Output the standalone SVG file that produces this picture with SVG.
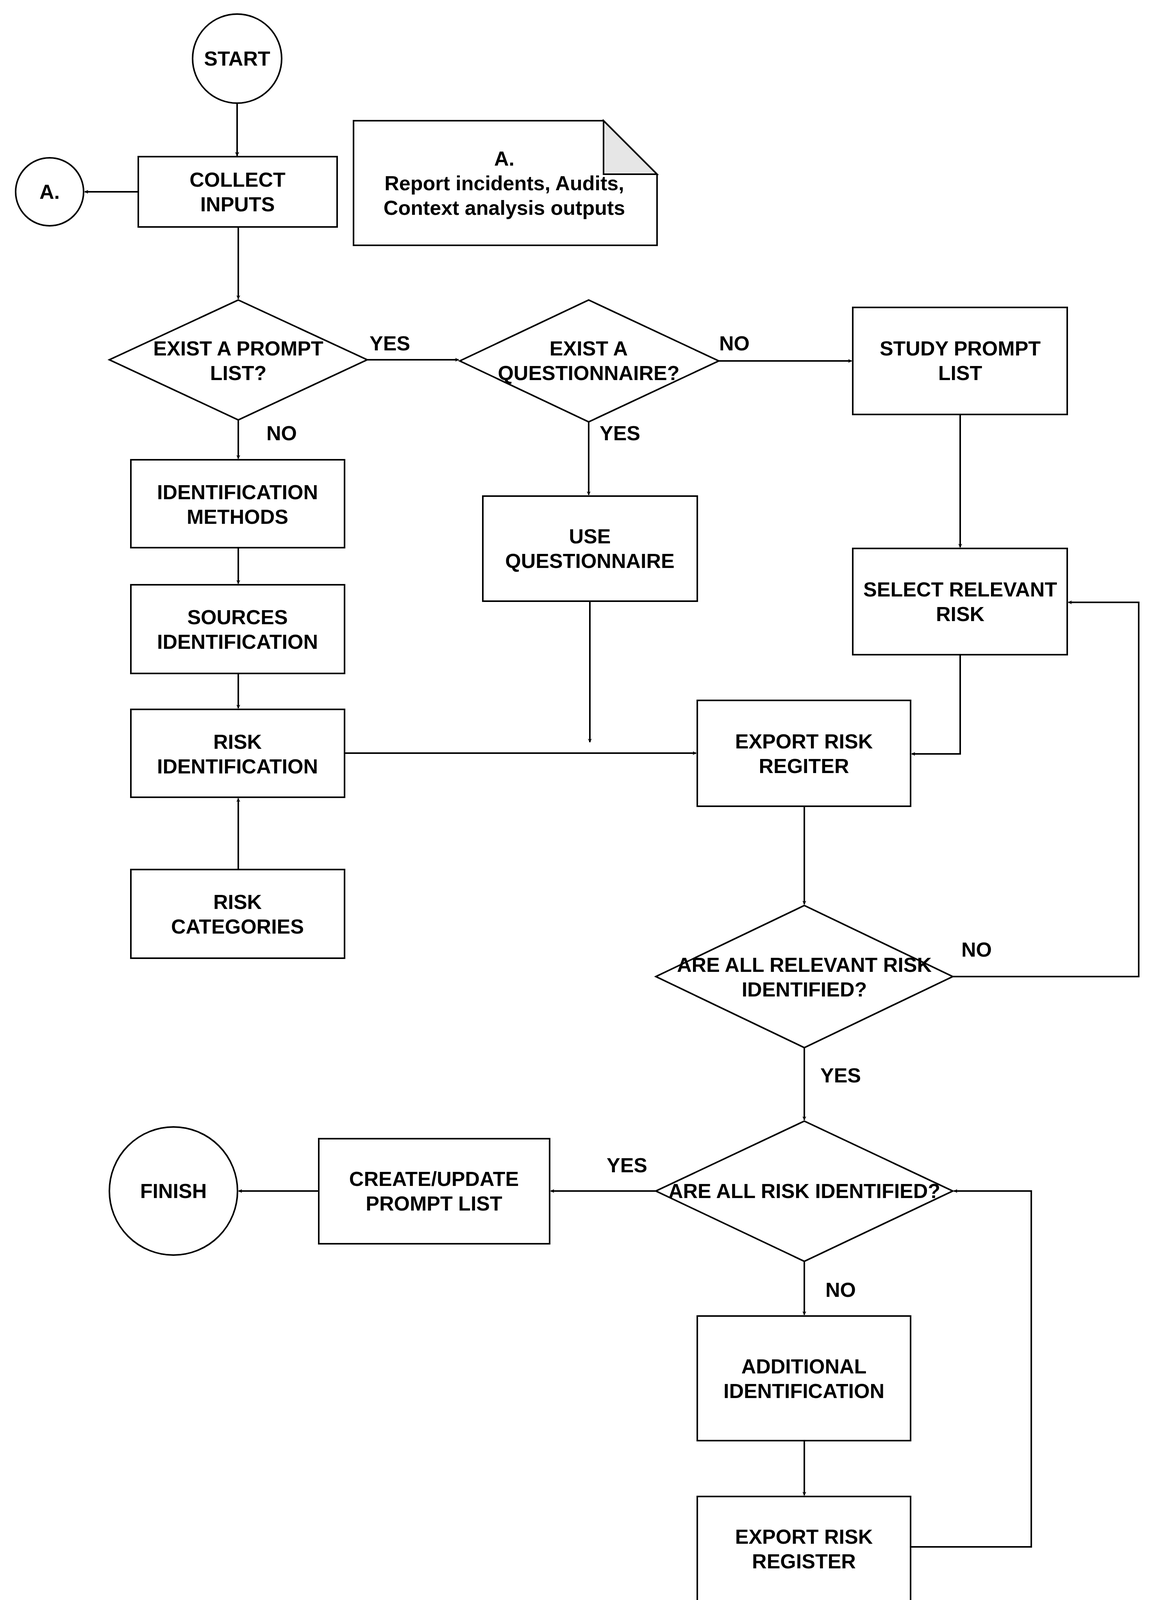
<svg xmlns="http://www.w3.org/2000/svg" width="2990" height="4170" viewBox="0 0 2990 4170">
<style>
.s{fill:#fff;stroke:#000;stroke-width:4}
.t{font-family:"Liberation Sans",Arial,sans-serif;font-weight:bold;font-size:52px;text-anchor:middle;fill:#000}
.c{fill:none;stroke:#000;stroke-width:4}
</style>
<defs><marker id="a" markerWidth="10" markerHeight="10" refX="9" refY="5" orient="auto" markerUnits="userSpaceOnUse" viewBox="0 0 10 10"><path d="M0,0L10,5L0,10L3,5z" fill="#000"/></marker></defs>
<rect width="2990" height="4170" fill="#fff"/>
<g id="connectors" class="c" marker-end="url(#a)">
<path d="M607,264V398" style="marker-end:url(#a)"/>
</g>
<g class="c">
<path d="M607,264V399" marker-end="url(#a)"/>
<path d="M354,491H217" marker-end="url(#a)"/>
<path d="M610,581V765" marker-end="url(#a)"/>
<path d="M940,921H1174" marker-end="url(#a)"/>
<path d="M610,1075V1174" marker-end="url(#a)"/>
<path d="M610,1402V1494" marker-end="url(#a)"/>
<path d="M610,1724V1813" marker-end="url(#a)"/>
<path d="M610,2226V2044" marker-end="url(#a)"/>
<path d="M882,1928H1782" marker-end="url(#a)"/>
<path d="M1840,924H2180" marker-end="url(#a)"/>
<path d="M1507,1080V1267" marker-end="url(#a)"/>
<path d="M1510,1539V1900" marker-end="url(#a)"/>
<path d="M2458,1061V1401" marker-end="url(#a)"/>
<path d="M2458,1676V1930H2334" marker-end="url(#a)"/>
<path d="M2059,2064V2315" marker-end="url(#a)"/>
<path d="M2439,2500H2915V1542H2735" marker-end="url(#a)"/>
<path d="M2059,2682V2867" marker-end="url(#a)"/>
<path d="M1679,3049H1410" marker-end="url(#a)"/>
<path d="M816,3049H611" marker-end="url(#a)"/>
<path d="M2059,3229V3366" marker-end="url(#a)"/>
<path d="M2059,3688V3828" marker-end="url(#a)"/>
<path d="M2331,3960H2640V3049H2442" marker-end="url(#a)"/>
</g>
<g id="start"><circle class="s" cx="607" cy="150" r="114"/><text class="t" x="607" y="168">START</text></g>
<g id="collect"><rect class="s" x="354" y="401" width="509" height="180"/><text class="t" x="608" y="478">COLLECT</text><text class="t" x="608" y="541">INPUTS</text></g>
<g id="a-circle"><circle class="s" cx="127" cy="491" r="87"/><text class="t" x="127" y="509">A.</text></g>
<g id="note"><path class="s" d="M905,309H1545L1682,446V628H905Z"/><path class="s" d="M1545,309V446H1682Z" style="fill:#e6e6e6"/><text class="t" x="1291" y="424">A.</text><text class="t" x="1291" y="487">Report incidents, Audits,</text><text class="t" x="1291" y="550">Context analysis outputs</text></g>
<g id="d1"><path class="s" d="M610,768L940,921L610,1075L280,921Z"/><text class="t" x="610" y="910">EXIST A PROMPT</text><text class="t" x="610" y="973">LIST?</text></g>
<g id="d2"><path class="s" d="M1507,768L1840,924L1507,1080L1177,924Z"/><text class="t" x="1507" y="910">EXIST A</text><text class="t" x="1507" y="973">QUESTIONNAIRE?</text></g>
<g id="study"><rect class="s" x="2183" y="787" width="549" height="274"/><text class="t" x="2458" y="910">STUDY PROMPT</text><text class="t" x="2458" y="973">LIST</text></g>
<g id="idm"><rect class="s" x="335" y="1177" width="547" height="225"/><text class="t" x="608" y="1278">IDENTIFICATION</text><text class="t" x="608" y="1341">METHODS</text></g>
<g id="src"><rect class="s" x="335" y="1497" width="547" height="227"/><text class="t" x="608" y="1598">SOURCES</text><text class="t" x="608" y="1661">IDENTIFICATION</text></g>
<g id="ri"><rect class="s" x="335" y="1816" width="547" height="225"/><text class="t" x="608" y="1917">RISK</text><text class="t" x="608" y="1980">IDENTIFICATION</text></g>
<g id="rc"><rect class="s" x="335" y="2226" width="547" height="227"/><text class="t" x="608" y="2327">RISK</text><text class="t" x="608" y="2390">CATEGORIES</text></g>
<g id="uq"><rect class="s" x="1236" y="1270" width="549" height="269"/><text class="t" x="1510" y="1391">USE</text><text class="t" x="1510" y="1454">QUESTIONNAIRE</text></g>
<g id="sel"><rect class="s" x="2183" y="1404" width="549" height="272"/><text class="t" x="2458" y="1527">SELECT RELEVANT</text><text class="t" x="2458" y="1590">RISK</text></g>
<g id="exp1"><rect class="s" x="1785" y="1793" width="546" height="271"/><text class="t" x="2058" y="1916">EXPORT RISK</text><text class="t" x="2058" y="1979">REGITER</text></g>
<g id="d3"><path class="s" d="M2059,2318L2439,2500L2059,2682L1679,2500Z"/><text class="t" x="2059" y="2488">ARE ALL RELEVANT RISK</text><text class="t" x="2059" y="2551">IDENTIFIED?</text></g>
<g id="d4"><path class="s" d="M2059,2870L2439,3049L2059,3229L1679,3049Z"/><text class="t" x="2059" y="3067">ARE ALL RISK IDENTIFIED?</text></g>
<g id="create"><rect class="s" x="816" y="2915" width="591" height="269"/><text class="t" x="1111" y="3036">CREATE/UPDATE</text><text class="t" x="1111" y="3099">PROMPT LIST</text></g>
<g id="finish"><circle class="s" cx="444" cy="3049" r="164"/><text class="t" x="444" y="3067">FINISH</text></g>
<g id="add"><rect class="s" x="1785" y="3369" width="546" height="319"/><text class="t" x="2058" y="3516">ADDITIONAL</text><text class="t" x="2058" y="3579">IDENTIFICATION</text></g>
<g id="exp2"><rect class="s" x="1785" y="3831" width="546" height="269"/><text class="t" x="2058" y="3952">EXPORT RISK</text><text class="t" x="2058" y="4015">REGISTER</text></g>
<g id="labels">
<text class="t" x="998" y="897">YES</text><text class="t" x="721" y="1127">NO</text>
<text class="t" x="1880" y="897">NO</text><text class="t" x="1587" y="1127">YES</text>
<text class="t" x="2500" y="2449">NO</text><text class="t" x="2152" y="2771">YES</text>
<text class="t" x="1605" y="3001">YES</text><text class="t" x="2152" y="3320">NO</text>
</g>
</svg>
